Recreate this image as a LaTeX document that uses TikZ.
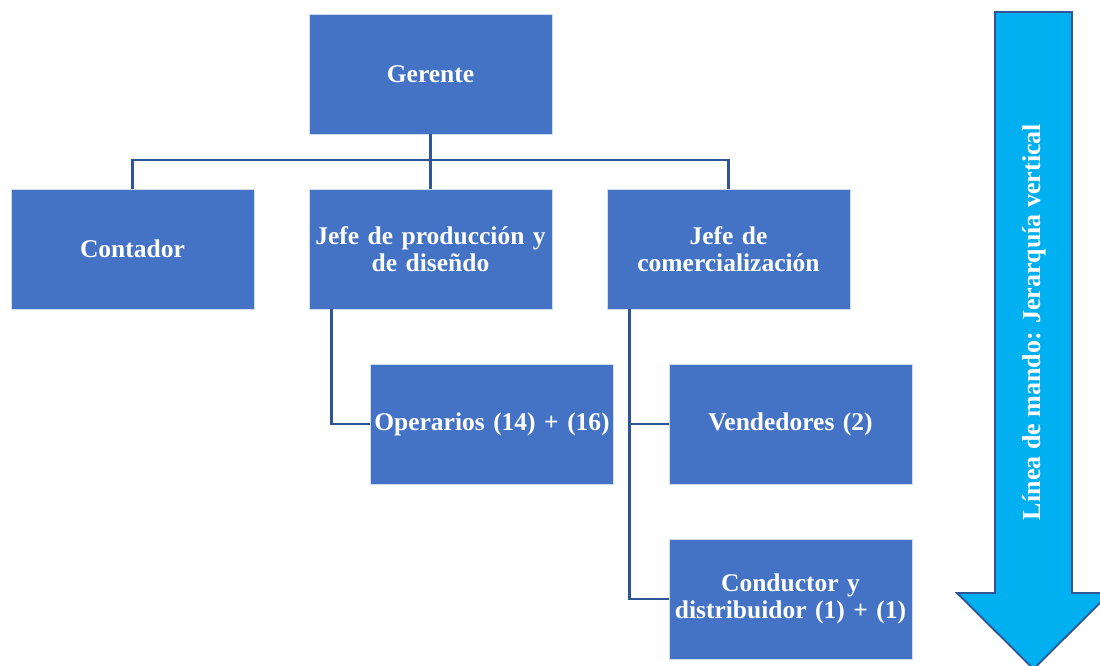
\documentclass[tikz,border=0pt]{standalone}
\usepackage{fontspec}
\setmainfont{Liberation Serif}
\definecolor{boxblue}{HTML}{4472C4}
\definecolor{linkblue}{HTML}{2F5597}
\definecolor{arrowcyan}{HTML}{00B0F0}
\begin{document}
\begin{tikzpicture}[x=1pt,y=-1pt,
  unit/.style={draw=white!75!boxblue,line width=0.8pt,fill=boxblue,text=white,
    font=\bfseries\fontsize{25.5}{27}\selectfont,align=center,
    minimum width=243pt,minimum height=120pt,inner sep=1pt,text width=241pt},
  link/.style={draw=linkblue,line width=2.4pt}]
\useasboundingbox (0,0) rectangle (1100,665);

% organisation boxes
\node[unit] (ger) at (430.5,74) {Gerente};
\node[unit] (con) at (132.5,249) {Contador};
\node[unit] (jpd) at (430.5,249) {Jefe de producción y\\de diseñdo};
\node[unit] (jco) at (728.5,249) {Jefe de\\comercialización};
\node[unit] (ope) at (492,424) {Operarios (14) + (16)};
\node[unit] (ven) at (790.5,424) {Vendedores (2)};
\node[unit] (cdt) at (790.5,599) {Conductor y\\distribuidor (1) + (1)};

% reporting lines from the manager
\coordinate (bus) at (430.5,160);
\draw[link] (ger.south) -- (bus);
\draw[link] (con.north) |- (bus) -| (jco.north);
\draw[link] (bus) -- (jpd.north);

% production branch
\coordinate (pd) at ([xshift=-99pt]jpd.south);
\draw[link] (pd) |- (ope.west);

% commercial branch
\coordinate (cm) at ([xshift=-99pt]jco.south);
\draw[link] (cm) |- (cdt.west);
\draw[link] (cm |- ven.west) -- (ven.west);

% line of command arrow
\draw[draw=linkblue,line width=1.8pt,fill=arrowcyan,line join=miter]
  (995,12) -- (1072,12) -- (1072,593) -- (1110,593) -- (1033.5,669)
  -- (957,593) -- (995,593) -- cycle;
\node[rotate=90,text=white,font=\bfseries\fontsize{26}{28}\selectfont] (lbl) at (1034,322)
  {Línea de mando: Jerarquía vertical};
\end{tikzpicture}
\end{document}
